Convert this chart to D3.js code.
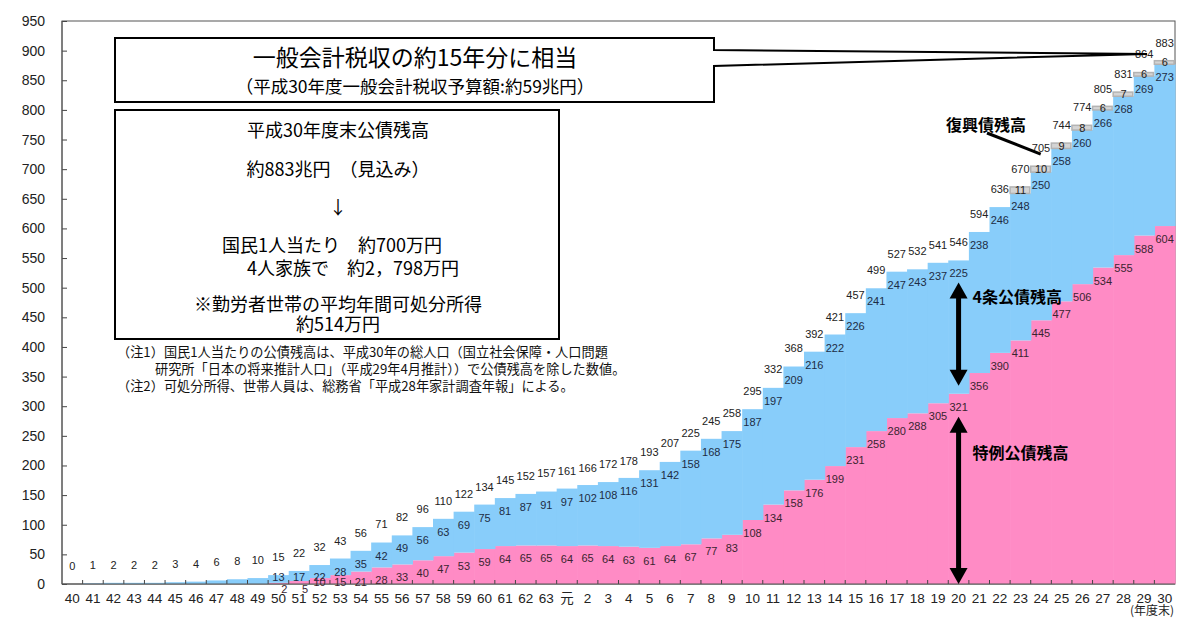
<!DOCTYPE html>
<html>
<head>
<meta charset="utf-8">
<script src="https://cdn.jsdelivr.net/npm/d3@7"></script>
<style>
body { margin: 0; background: #fff; }
svg { display: block; font-family: "Liberation Sans", Arial, "Noto Sans CJK JP", sans-serif; }
.jp { font-family: "Noto Sans CJK JP", sans-serif; }
</style>
</head>
<body>
<svg id="chart" width="1200" height="622"></svg>
<script>
// 年度 (昭和40〜63, 平成元〜30)
var years = ["40","41","42","43","44","45","46","47","48","49","50","51","52","53","54","55","56","57","58","59","60","61","62","63",
    "元","2","3","4","5","6","7","8","9","10","11","12","13","14","15","16","17","18","19","20","21","22","23","24","25","26","27","28","29","30"];

// 4条公債残高 (兆円)
var kensetsu = [0,1,2,2,2,3,4,6,8,10,13,17,22,28,35,42,49,56,63,69,75,81,87,91,
    97,102,108,116,131,142,158,168,175,187,197,209,216,222,226,241,247,243,237,225,238,246,248,250,258,260,266,268,269,273];

// 特例公債残高 (兆円)
var tokurei = [0,0,0,0,0,0,0,0,0,0,2,5,10,15,21,28,33,40,47,53,59,64,65,65,
    64,65,64,63,61,64,67,77,83,108,134,158,176,199,231,258,280,288,305,321,356,390,411,445,477,506,534,555,588,604];

// 復興債残高 (兆円)
var fukkoYears = ["23","24","25","26","27","28","29","30"];
var fukko = [11,10,9,8,6,7,6,6];

// 公債残高 合計 (兆円)
var totals = [0,1,2,2,2,3,4,6,8,10,15,22,32,43,56,71,82,96,110,122,134,145,152,157,
    161,166,172,178,193,207,225,245,258,295,332,368,392,421,457,499,527,532,541,546,594,636,670,705,744,774,805,831,864,883];

var yTicks = [0,50,100,150,200,250,300,350,400,450,500,550,600,650,700,750,800,850,900,950];

var plotL = 62, plotR = 1175, plotT = 21, plotB = 584;

var svg = d3.select('#chart');

var rows = years.map((yr, i) => ({
    year: yr,
    tokurei: tokurei[i],
    kensetsu: kensetsu[i],
    fukko: fukkoYears.indexOf(yr) >= 0 ? fukko[fukkoYears.indexOf(yr)] : 0,
    total: totals[i]
}));

var x = d3.scaleBand().domain(years).range([plotL, plotR]).padding(0);
var y = d3.scaleLinear().domain([0, 950]).range([plotB, plotT]);

var colors = { tokurei: '#ff8bc5', kensetsu: '#88cdfa', fukko: '#d4d4d4' };

var stack = d3.stack().keys(['tokurei', 'kensetsu', 'fukko'])(rows);

// frame
svg.append('rect')
    .attr('x', plotL).attr('y', plotT)
    .attr('width', plotR - plotL).attr('height', plotB - plotT)
    .attr('fill', 'none').attr('stroke', '#555').attr('stroke-width', 1);

// stacked steps
var layers = svg.append('g').selectAll('g')
    .data(stack)
    .join('g')
    .attr('fill', d => colors[d.key]);

layers.selectAll('rect')
    .data(d => d.filter(p => p[1] > p[0]).map(p => Object.assign({ key: d.key }, p)))
    .join('rect')
    .attr('x', d => x(d.data.year))
    .attr('width', d => d.key == 'fukko' ? x.bandwidth() - 1 : x.bandwidth() + 0.6)
    .attr('y', d => y(d[1]))
    .attr('height', d => y(d[0]) - y(d[1]))
    .attr('stroke', d => d.key == 'fukko' ? '#b3b3b3' : 'none')
    .attr('stroke-width', 1.5);

// axes
var yAxis = d3.axisLeft(y).tickValues(yTicks).tickSizeInner(-5).tickSizeOuter(0).tickPadding(17);
svg.append('g')
    .attr('transform', `translate(${plotL},0)`)
    .call(yAxis)
    .call(g => g.select('.domain').remove())
    .call(g => g.selectAll('line').attr('stroke', '#444'))
    .call(g => g.selectAll('text').attr('font-size', 14).attr('fill', '#222')
        .attr('font-family', '"Liberation Sans", Arial, sans-serif'));

var xAxis = d3.axisBottom(x).tickSize(0).tickPadding(9);
svg.append('g')
    .attr('transform', `translate(0,${plotB})`)
    .call(xAxis)
    .call(g => g.select('.domain').remove())
    .call(g => g.selectAll('text').attr('font-size', 13.5).attr('fill', '#222')
        .attr('font-family', '"Liberation Sans", Arial, "Noto Sans CJK JP", sans-serif'));

svg.append('g').selectAll('line')
    .data(years.slice(1))
    .join('line')
    .attr('x1', d => x(d)).attr('x2', d => x(d))
    .attr('y1', plotB).attr('y2', plotB - 4)
    .attr('stroke', '#444');

svg.append('line')
    .attr('x1', plotL).attr('x2', plotR)
    .attr('y1', plotB).attr('y2', plotB)
    .attr('stroke', '#555');
svg.append('line')
    .attr('x1', plotL).attr('x2', plotL)
    .attr('y1', plotT).attr('y2', plotB)
    .attr('stroke', '#555');

svg.append('text')
    .attr('class', 'jp')
    .attr('x', 1152).attr('y', 615)
    .attr('text-anchor', 'middle')
    .attr('font-size', 12).attr('fill', '#222')
    .text('(年度末)');

// value labels
var lab = svg.append('g')
    .attr('font-size', 11)
    .attr('fill', '#222')
    .attr('text-anchor', 'middle');

var cx = d => x(d.year) + x.bandwidth() / 2;

lab.selectAll('.tot')
    .data(rows)
    .join('text')
    .attr('class', 'tot')
    .attr('x', cx)
    .attr('y', d => y(d.total) - 14)
    .text(d => d.total);

lab.selectAll('.ken')
    .data(rows.filter(d => d.tokurei > 0))
    .join('text')
    .attr('class', 'ken')
    .attr('x', cx)
    .attr('y', d => Math.min(y(d.tokurei + d.kensetsu) + 17, 581))
    .attr('fill', '#1d2c44')
    .text(d => d.kensetsu);

lab.selectAll('.tok')
    .data(rows.filter(d => d.tokurei > 0))
    .join('text')
    .attr('class', 'tok')
    .attr('x', d => d.tokurei < 8 ? cx(d) + 6 : cx(d))
    .attr('y', d => d.tokurei < 8 ? 593 : Math.min(y(d.tokurei) + 17, 586))
    .attr('fill', '#3a2430')
    .text(d => d.tokurei);

lab.selectAll('.fuk')
    .data(rows.filter(d => d.fukko > 0))
    .join('text')
    .attr('class', 'fuk')
    .attr('x', cx)
    .attr('y', d => y(d.tokurei + d.kensetsu + d.fukko / 2) + 4)
    .text(d => d.fukko);

// annotations
function vArrow(xp, y1, y2) {
    var g = svg.append('g').attr('fill', '#000');
    g.append('rect').attr('x', xp - 2.5).attr('y', y1 + 10).attr('width', 5).attr('height', y2 - y1 - 20);
    g.append('path').attr('d', `M${xp},${y1} L${xp - 9},${y1 + 16} L${xp + 9},${y1 + 16} Z`);
    g.append('path').attr('d', `M${xp},${y2} L${xp - 9},${y2 - 16} L${xp + 9},${y2 - 16} Z`);
}

var r20 = rows.find(d => d.year == '20');
var ax = cx(r20);
vArrow(ax, y(r20.total) + 22, y(r20.tokurei) - 8);
vArrow(ax, y(r20.tokurei) + 23, plotB);

var bold = svg.append('g')
    .attr('class', 'jp')
    .attr('font-size', 16)
    .attr('font-weight', 'bold')
    .attr('fill', '#000');
bold.append('text').attr('x', ax + 14).attr('y', 303).text('4条公債残高');
bold.append('text').attr('x', ax + 14).attr('y', 459).text('特例公債残高');
bold.append('text').attr('x', 946).attr('y', 131).text('復興債残高');

var r24 = rows.find(d => d.year == '24');
svg.append('line')
    .attr('x1', 987).attr('y1', 133)
    .attr('x2', x('24') + 10).attr('y2', y(r24.total) - 12)
    .attr('stroke', '#000').attr('stroke-width', 3);

// callout box
var r29 = rows.find(d => d.year == '29');
var tipX = cx(r29) + 3, tipY = y(r29.total) - 18;
svg.append('path')
    .attr('d', `M115,38 H714 V50 L${tipX},${tipY} L714,66 V102 H115 Z`)
    .attr('fill', '#fff').attr('stroke', '#000').attr('stroke-width', 2)
    .attr('stroke-linejoin', 'miter');

var t1 = svg.append('g').attr('class', 'jp').attr('text-anchor', 'middle').attr('fill', '#000');
t1.append('text').attr('x', 415).attr('y', 66).attr('font-size', 23).text('一般会計税収の約15年分に相当');
t1.append('text').attr('x', 415).attr('y', 93).attr('font-size', 17.5).text('（平成30年度一般会計税収予算額:約59兆円）');

// info box
svg.append('rect')
    .attr('x', 115).attr('y', 110).attr('width', 444).attr('height', 229)
    .attr('fill', '#fff').attr('stroke', '#000').attr('stroke-width', 2);

var t2 = svg.append('g').attr('class', 'jp').attr('fill', '#000').attr('font-size', 18);
t2.append('text').attr('x', 338).attr('y', 137).attr('text-anchor', 'middle').text('平成30年度末公債残高');
t2.append('text').attr('x', 338).attr('y', 176).attr('text-anchor', 'middle').text('約883兆円　（見込み）');
t2.append('text').attr('x', 338).attr('y', 214).attr('text-anchor', 'middle').text('↓');
t2.append('text').attr('x', 222).attr('y', 252).text('国民1人当たり　約700万円');
t2.append('text').attr('x', 247).attr('y', 275).text('4人家族で　約2，798万円');
t2.append('text').attr('x', 338).attr('y', 311).attr('text-anchor', 'middle').text('※勤労者世帯の平均年間可処分所得');
t2.append('text').attr('x', 338).attr('y', 331).attr('text-anchor', 'middle').text('約514万円');

var notes = svg.append('g').attr('class', 'jp').attr('fill', '#111').attr('font-size', 13.2);
notes.append('text').attr('x', 117).attr('y', 357).text('（注1）国民1人当たりの公債残高は、平成30年の総人口（国立社会保障・人口問題');
notes.append('text').attr('x', 155).attr('y', 374).text('研究所「日本の将来推計人口」（平成29年4月推計））で公債残高を除した数値。');
notes.append('text').attr('x', 117).attr('y', 391).text('（注2）可処分所得、世帯人員は、総務省「平成28年家計調査年報」による。');
</script>
</body>
</html>
